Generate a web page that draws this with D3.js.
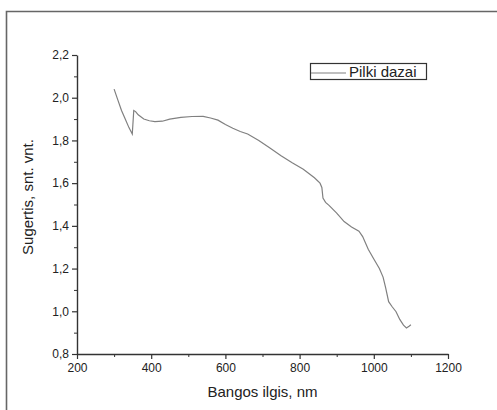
<!DOCTYPE html>
<html><head><meta charset="utf-8">
<script src="https://cdn.jsdelivr.net/npm/d3@7"></script>
<style>body{margin:0;background:#fff}svg{display:block;font-family:"Liberation Sans",Arial,sans-serif}</style>
</head><body>
<script>
const wavelength = [300,310,320,330,340,349,353,358,365,380,395,410,430,450,480,510,540,560,580,600,620,640,660,690,720,750,780,810,840,855,860,863,870,880,900,920,940,960,970,985,1000,1015,1025,1032,1040,1050,1060,1070,1080,1088,1095,1100];
const absorbance = [2.04,1.99,1.94,1.90,1.86,1.83,1.94,1.935,1.92,1.90,1.892,1.888,1.89,1.90,1.908,1.912,1.913,1.905,1.895,1.875,1.857,1.842,1.83,1.80,1.765,1.728,1.695,1.665,1.625,1.60,1.58,1.53,1.51,1.495,1.46,1.42,1.395,1.375,1.35,1.29,1.245,1.20,1.16,1.11,1.045,1.02,0.998,0.962,0.935,0.922,0.93,0.937];
const xTicks = [200,400,600,800,1000,1200];
const yTicks = [0.8,1.0,1.2,1.4,1.6,1.8,2.0,2.2];
const seriesName = "Pilki dazai";
const xTitle = "Bangos ilgis, nm";
const yTitle = "Sugertis, snt. vnt.";

const W = 497, H = 410;
const svg = d3.select("body").append("svg").attr("width", W).attr("height", H);
const x = d3.scaleLinear().domain([200,1200]).range([77,448]);
const y = d3.scaleLinear().domain([0.8,2.2]).range([354,55]);
const fmt = v => d3.format(".1f")(v).replace(".", ",");

// outer frame
svg.append("path").attr("d", `M6.5,${H} V11.5 H${W}`).attr("fill","none").attr("stroke","#666").attr("stroke-width",1.6);

// minor ticks
const xMinor = d3.range(300,1200,200);
const yMinor = d3.range(0.9,2.2,0.2);
svg.append("g").attr("transform","translate(0,354)")
  .call(d3.axisBottom(x).tickValues(xMinor).tickSize(3).tickFormat(""))
  .call(g=>g.select(".domain").remove())
  .call(g=>g.selectAll("line").attr("stroke","#333"));
svg.append("g").attr("transform","translate(77,0)")
  .call(d3.axisLeft(y).tickValues(yMinor).tickSize(3).tickFormat(""))
  .call(g=>g.select(".domain").remove())
  .call(g=>g.selectAll("line").attr("stroke","#333"));

// major axes
const gx = svg.append("g").attr("transform","translate(0,354)")
  .call(d3.axisBottom(x).tickValues(xTicks).tickSize(5).tickSizeOuter(0).tickPadding(4).tickFormat(d3.format("d")));
const gy = svg.append("g").attr("transform","translate(77,0)")
  .call(d3.axisLeft(y).tickValues(yTicks).tickSize(5).tickSizeOuter(0).tickPadding(3).tickFormat(fmt));
[gx,gy].forEach(g=>{
  g.select(".domain").attr("stroke","#333").attr("stroke-width",1.4);
  g.selectAll("line").attr("stroke","#333").attr("stroke-width",1.2);
  g.selectAll("text").attr("fill","#222").style("font-size","12px").style("font-family",'"Liberation Sans",Arial,sans-serif');
});

// curve
const pts = wavelength.map((w,i)=>[w,absorbance[i]]);
svg.append("path").datum(pts)
  .attr("d", d3.line().x(d=>x(d[0])).y(d=>y(d[1])))
  .attr("fill","none").attr("stroke","#808080").attr("stroke-width",1.2);

// titles
svg.append("text").attr("x",262.5).attr("y",397).attr("text-anchor","middle")
  .style("font-size","15px").attr("fill","#222").text(xTitle);
svg.append("text").attr("transform","translate(33,197) rotate(-90)").attr("text-anchor","middle")
  .style("font-size","15px").attr("fill","#222").text(yTitle);

// legend
const lg = svg.append("g");
lg.append("rect").attr("x",310.5).attr("y",63.5).attr("width",116).attr("height",16)
  .attr("fill","#fff").attr("stroke","#333").attr("stroke-width",1.2);
lg.append("line").attr("x1",311).attr("x2",346).attr("y1",73).attr("y2",73)
  .attr("stroke","#808080").attr("stroke-width",1.2);
lg.append("text").attr("x",349).attr("y",77).style("font-size","15px").attr("fill","#222").text(seriesName);
</script>
</body></html>
